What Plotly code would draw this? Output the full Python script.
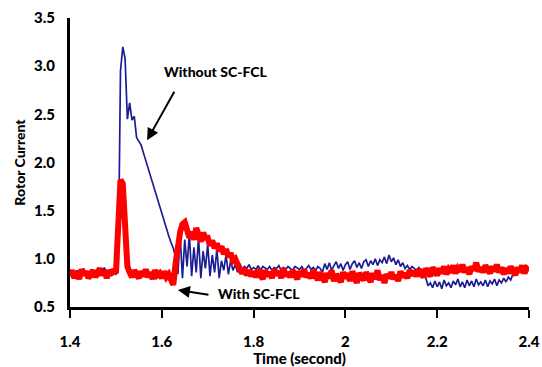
import numpy as np
import plotly.graph_objects as go

# sample instants (s), 5 ms grid from 1.400 to 2.400
time_s = np.round(np.linspace(1.4, 2.4, 201), 3).tolist()

without_fcl = [
    0.86, 0.80, 0.84, 0.88, 0.82, 0.85, 0.90, 0.83, 0.86, 0.81,
    0.87, 0.84, 0.89, 0.83, 0.86, 0.91, 0.84, 0.87, 0.82, 0.86,
    0.84, 0.87, 2.95, 3.20, 3.08, 2.45, 2.62, 2.44, 2.48, 2.26,
    2.22, 2.18, 2.10, 2.02, 1.95, 1.86, 1.80, 1.72, 1.64, 1.56,
    1.48, 1.40, 1.32, 1.24, 1.17, 1.11, 1.02, 0.84, 1.24, 0.80,
    1.20, 0.92, 1.26, 0.82, 1.12, 0.86, 1.22, 0.80, 1.08, 0.90,
    1.15, 0.82, 1.04, 0.86, 1.10, 0.80, 0.98, 0.88, 1.04, 0.84,
    0.98, 0.88, 0.94, 0.86, 0.95, 0.89, 0.92, 0.90, 0.94, 0.89,
    0.91, 0.89, 0.93, 0.88, 0.92, 0.90, 0.89, 0.92, 0.88, 0.91,
    0.90, 0.93, 0.88, 0.91, 0.89, 0.92, 0.90, 0.88, 0.92, 0.90,
    0.89, 0.92, 0.88, 0.90, 0.93, 0.89, 0.91, 0.88, 0.92, 0.90,
    0.86, 0.95, 0.89, 0.96, 0.88, 0.93, 0.97, 0.90, 0.95, 0.88,
    0.94, 0.97, 0.89, 0.95, 0.98, 0.91, 0.96, 0.90, 0.97, 0.99,
    0.92, 0.98, 0.94, 1.00, 0.93, 0.99, 0.96, 1.02, 0.95, 1.04,
    0.97, 1.01, 0.94, 0.99, 0.92, 0.96, 0.90, 0.93, 0.89, 0.92,
    0.90, 0.88, 0.91, 0.87, 0.89, 0.80, 0.72, 0.75, 0.70, 0.77,
    0.71, 0.76, 0.69, 0.78, 0.72, 0.75, 0.70, 0.77, 0.73, 0.79,
    0.71, 0.76, 0.70, 0.78, 0.72, 0.77, 0.71, 0.79, 0.73, 0.76,
    0.72, 0.78, 0.71, 0.77, 0.74, 0.79, 0.72, 0.78, 0.75, 0.80,
    0.76, 0.81, 0.78, 0.84, 0.87, 0.85, 0.89, 0.86, 0.88, 0.90,
    0.89,
]

with_fcl = [
    0.82, 0.88, 0.80, 0.86, 0.79, 0.89, 0.83, 0.87, 0.80, 0.85,
    0.88, 0.81, 0.86, 0.90, 0.83, 0.87, 0.80, 0.88, 0.84, 0.89,
    0.85, 1.30, 1.82, 1.78, 1.38, 0.92, 0.86, 0.81, 0.88, 0.83,
    0.80, 0.87, 0.82, 0.89, 0.81, 0.86, 0.79, 0.88, 0.83, 0.85,
    0.80, 0.87, 0.81, 0.84, 0.78, 0.73, 0.95, 1.15, 1.28, 1.36,
    1.38, 1.30, 1.22, 1.28, 1.20, 1.32, 1.25, 1.18, 1.27, 1.22,
    1.22, 1.14, 1.19, 1.11, 1.16, 1.08, 1.13, 1.05, 1.10, 1.02,
    1.06, 0.98, 1.00, 0.93, 0.89, 0.85, 0.90, 0.83, 0.88, 0.82,
    0.87, 0.81, 0.89, 0.83, 0.79, 0.88, 0.82, 0.86, 0.80, 0.89,
    0.83, 0.87, 0.80, 0.90, 0.82, 0.86, 0.81, 0.88, 0.84, 0.79,
    0.87, 0.82, 0.89, 0.81, 0.85, 0.80, 0.88, 0.83, 0.78, 0.86,
    0.81, 0.76, 0.85, 0.80, 0.88, 0.77, 0.84, 0.81, 0.76, 0.86,
    0.80, 0.85, 0.77, 0.87, 0.81, 0.75, 0.85, 0.82, 0.78, 0.86,
    0.81, 0.76, 0.85, 0.79, 0.88, 0.78, 0.83, 0.75, 0.84, 0.80,
    0.86, 0.79, 0.83, 0.77, 0.87, 0.81, 0.85, 0.80, 0.88, 0.83,
    0.87, 0.82, 0.89, 0.84, 0.81, 0.90, 0.85, 0.82, 0.91, 0.86,
    0.83, 0.90, 0.85, 0.92, 0.84, 0.89, 0.86, 0.93, 0.85, 0.90,
    0.87, 0.94, 0.86, 0.91, 0.84, 0.92, 0.88, 0.96, 0.87, 0.91,
    0.86, 0.93, 0.89, 0.85, 0.92, 0.87, 0.94, 0.86, 0.91, 0.84,
    0.90, 0.85, 0.92, 0.87, 0.83, 0.91, 0.86, 0.93, 0.85, 0.90,
    0.88,
]

x_tickvals = [1.4, 1.6, 1.8, 2.0, 2.2, 2.4]
x_ticktext = ["1.4", "1.6", "1.8", "2", "2.2", "2.4"]
y_tickvals = [0.5, 1.0, 1.5, 2.0, 2.5, 3.0, 3.5]
y_ticktext = ["0.5", "1.0", "1.5", "2.0", "2.5", "3.0", "3.5"]

FONT = "Lato"
W = 900

fig = go.Figure()
fig.add_trace(go.Scatter(x=time_s, y=without_fcl, mode="lines",
                         line=dict(color="#1c1c94", width=1.7),
                         name="Without SC-FCL", showlegend=False))
fig.add_trace(go.Scatter(x=time_s, y=with_fcl, mode="lines",
                         line=dict(color="#ff0000", width=6),
                         name="With SC-FCL", showlegend=False))

fig.update_layout(
    width=542, height=367,
    margin=dict(l=70, r=13, t=18, b=60),
    plot_bgcolor="white", paper_bgcolor="white",
    font=dict(family=FONT, color="black"),
    xaxis=dict(range=[1.4, 2.4], tickvals=x_tickvals, ticktext=x_ticktext,
               automargin=False,
               showgrid=False, zeroline=False, showline=True, linecolor="black",
               linewidth=3, ticks="outside", ticklen=8, tickwidth=2, tickcolor="black",
               ticklabelstandoff=11,
               tickfont=dict(family=FONT, size=15, weight=W),
               title=dict(text="Time (second)", standoff=3,
                          font=dict(family=FONT, size=15, weight=W))),
    yaxis=dict(range=[0.5, 3.5], tickvals=y_tickvals, ticktext=y_ticktext,
               automargin=False,
               showgrid=False, zeroline=False, showline=True, linecolor="black",
               linewidth=3, ticks="", ticklabelstandoff=9,
               tickfont=dict(family=FONT, size=15, weight=W),
               title=dict(text="Rotor Current", standoff=6,
                          font=dict(family=FONT, size=14, weight=W))),
)

fig.add_annotation(x=1.716, y=2.945, text="Without SC-FCL", showarrow=False,
                   font=dict(family=FONT, size=14, weight=W))
fig.add_annotation(x=1.568, y=2.23, ax=1.629, ay=2.75, axref="x", ayref="y",
                   text="", showarrow=True, arrowhead=2, arrowsize=1.2,
                   arrowwidth=2, arrowcolor="black")
fig.add_annotation(x=1.812, y=0.645, text="With SC-FCL", showarrow=False,
                   font=dict(family=FONT, size=14, weight=W))
fig.add_annotation(x=1.635, y=0.676, ax=1.705, ay=0.624, axref="x", ayref="y",
                   text="", showarrow=True, arrowhead=2, arrowsize=1.2,
                   arrowwidth=2, arrowcolor="black")

fig.write_html("out.html")
